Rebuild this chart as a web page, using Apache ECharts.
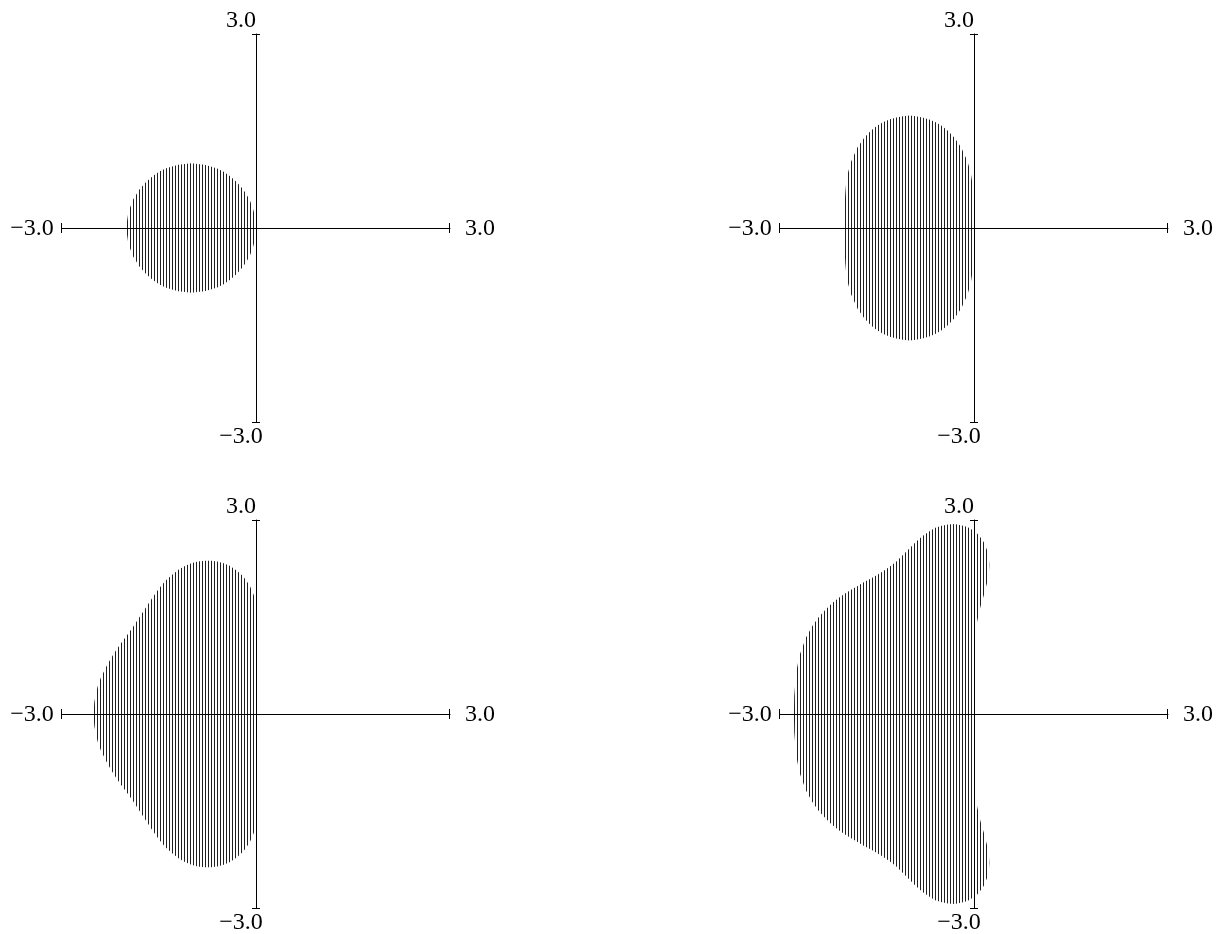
<!DOCTYPE html>
<html>
<head>
<meta charset="utf-8">
<script src="https://cdn.jsdelivr.net/npm/echarts@6/dist/echarts.min.js"></script>
<style>
html, body { margin: 0; padding: 0; background: #ffffff; }
#chart { width: 1224px; height: 934px; }
</style>
</head>
<body>
<div id="chart"></div>
<script>
// ---- axis range, end ticks and their labels ----
const axisMin = -3;
const axisMax = 3;
const endTicks = [-3, 3];
const endLabels = ['\u22123.0', '3.0'];

// ---- upper half of each region's boundary, [x, y] (regions are symmetric about y = 0) ----
const region1 = [[-2,0],[-1.995,0.1],[-1.98,0.2],[-1.95,0.31],[-1.9,0.44],[-1.8,0.6],[-1.7,0.71],[-1.6,0.8],
  [-1.5,0.87],[-1.4,0.92],[-1.3,0.95],[-1.2,0.98],[-1.1,0.99],[-1.0,1.0],[-0.9,0.99],[-0.8,0.98],[-0.7,0.95],
  [-0.6,0.92],[-0.5,0.87],[-0.4,0.8],[-0.3,0.71],[-0.2,0.6],[-0.1,0.44],[-0.05,0.31],[-0.02,0.2],[-0.005,0.1],[0,0]];

const region2 = [[-2,0],[-1.995,0.46],[-1.99,0.55],[-1.98,0.66],[-1.95,0.85],[-1.9,1.03],[-1.8,1.25],[-1.7,1.39],
  [-1.6,1.5],[-1.5,1.58],[-1.4,1.64],[-1.3,1.68],[-1.2,1.71],[-1.1,1.73],[-1.0,1.74],[-0.9,1.73],[-0.8,1.71],
  [-0.7,1.68],[-0.6,1.64],[-0.5,1.58],[-0.4,1.5],[-0.3,1.39],[-0.2,1.25],[-0.1,1.03],[-0.05,0.85],[-0.02,0.66],
  [-0.01,0.55],[-0.005,0.46],[0,0]];

const region3 = [[-2.513,0],[-2.5,0.19],[-2.45,0.42],[-2.4,0.56],[-2.3,0.76],[-2.2,0.93],[-2.1,1.08],[-2.0,1.21],
  [-1.9,1.35],[-1.8,1.5],[-1.7,1.65],[-1.6,1.8],[-1.5,1.94],[-1.4,2.06],[-1.3,2.15],[-1.2,2.23],[-1.1,2.29],
  [-1.0,2.33],[-0.9,2.36],[-0.8,2.37],[-0.7,2.37],[-0.6,2.36],[-0.5,2.33],[-0.4,2.29],[-0.3,2.22],[-0.2,2.13],
  [-0.15,2.06],[-0.1,1.99],[-0.05,1.88],[-0.02,1.8],[0,1.73],[0,0]];

const region4 = [[-2.785,0],[-2.78,0.28],[-2.75,0.64],[-2.7,0.9],[-2.6,1.18],[-2.5,1.36],[-2.4,1.5],[-2.3,1.61],
  [-2.2,1.71],[-2.1,1.79],[-2.0,1.86],[-1.9,1.92],[-1.8,1.98],[-1.7,2.04],[-1.6,2.09],[-1.5,2.15],[-1.4,2.21],
  [-1.3,2.28],[-1.2,2.36],[-1.1,2.46],[-1.0,2.56],[-0.9,2.66],[-0.8,2.75],[-0.7,2.82],[-0.6,2.88],[-0.5,2.91],
  [-0.4,2.93],[-0.3,2.94],[-0.2,2.92],[-0.1,2.89],[0,2.83],[0.05,2.79],[0.1,2.73],[0.15,2.66],[0.2,2.54],
  [0.23,2.42],[0.237,2.3],[0.23,2.17],[0.2,2.02],[0.15,1.83],[0.1,1.66],[0.05,1.44],[0.02,1.23],[0.01,1.09],
  [0.005,0.97],[0,0]];

const regions = [region1, region2, region3, region4];

// ---- layout (pixels) ----
const grids = [
  { left: 62,  top: 34,  width: 388, height: 388 },
  { left: 780, top: 34,  width: 388, height: 388 },
  { left: 62,  top: 520, width: 388, height: 388 },
  { left: 780, top: 520, width: 388, height: 388 }
];
const hatchOffsets = [1, 2, 1, 2];
const labelFont = '24px "Liberation Serif", "DejaVu Serif", serif';

function hatch(offset) {
  const c = document.createElement('canvas');
  c.width = 3; c.height = 4;
  const ctx = c.getContext('2d');
  ctx.fillStyle = 'rgba(0,0,0,0.88)';
  ctx.fillRect(0, 0, 1, 4);
  return { image: c, repeat: 'repeat', x: offset, y: 0 };
}

function regionRenderer(pts, offset) {
  return function (params, api) {
    if (params.dataIndex !== 0) return null;
    const upper = pts.map(p => api.coord([p[0], p[1]]));
    const lower = pts.slice().reverse().map(p => api.coord([p[0], -p[1]]));
    return {
      type: 'polygon',
      shape: { points: upper.concat(lower) },
      style: { fill: hatch(offset), stroke: null }
    };
  };
}

// axis-end decorations: [x, y, direction, labelIndex]
const endItems = [];
endTicks.forEach((v, i) => { endItems.push([v, 0, 0, i]); endItems.push([0, v, 1, i]); });

function endRenderer(params, api) {
  const x = api.value(0), y = api.value(1), dir = api.value(2), li = api.value(3);
  const p = api.coord([x, y]);
  const children = [];
  if (dir === 0) {
    const px = Math.round(p[0]) - 0.5;
    children.push({ type: 'line', shape: { x1: px, y1: p[1] - 5, x2: px, y2: p[1] + 5 },
      style: { stroke: '#000', lineWidth: 1 } });
    children.push({ type: 'text', style: { text: endLabels[li], x: p[0] + (x < 0 ? -30 : 30), y: p[1] + 1,
      align: 'center', verticalAlign: 'middle', font: labelFont, fill: '#000' } });
  } else {
    const py = Math.round(p[1]) + 0.5;
    children.push({ type: 'line', shape: { x1: p[0] - 4, y1: py, x2: p[0] + 4, y2: py },
      style: { stroke: '#000', lineWidth: 1 } });
    children.push({ type: 'text', style: { text: endLabels[li], x: p[0] - 15, y: p[1] + (y > 0 ? -13 : 14.5),
      align: 'center', verticalAlign: 'middle', font: labelFont, fill: '#000' } });
  }
  return { type: 'group', children: children };
}

const chart = echarts.init(document.getElementById('chart'), null, { renderer: 'canvas' });

const axisCommon = {
  type: 'value', min: axisMin, max: axisMax,
  axisLine: { show: true, onZero: true, lineStyle: { color: '#000', width: 1 } },
  axisTick: { show: false }, axisLabel: { show: false }, splitLine: { show: false }
};

const series = [];
regions.forEach((r, i) => {
  series.push({
    type: 'custom', coordinateSystem: 'cartesian2d', xAxisIndex: i, yAxisIndex: i,
    data: r, clip: false, silent: true, z: 1,
    renderItem: regionRenderer(r, hatchOffsets[i])
  });
  series.push({
    type: 'custom', coordinateSystem: 'cartesian2d', xAxisIndex: i, yAxisIndex: i,
    data: endItems, clip: false, silent: true, z: 3,
    renderItem: endRenderer
  });
});

chart.setOption({
  animation: false,
  backgroundColor: '#ffffff',
  grid: grids.map(g => Object.assign({ containLabel: false }, g)),
  xAxis: grids.map((g, i) => Object.assign({ gridIndex: i }, axisCommon)),
  yAxis: grids.map((g, i) => Object.assign({ gridIndex: i }, axisCommon)),
  series: series
});
</script>
</body>
</html>
